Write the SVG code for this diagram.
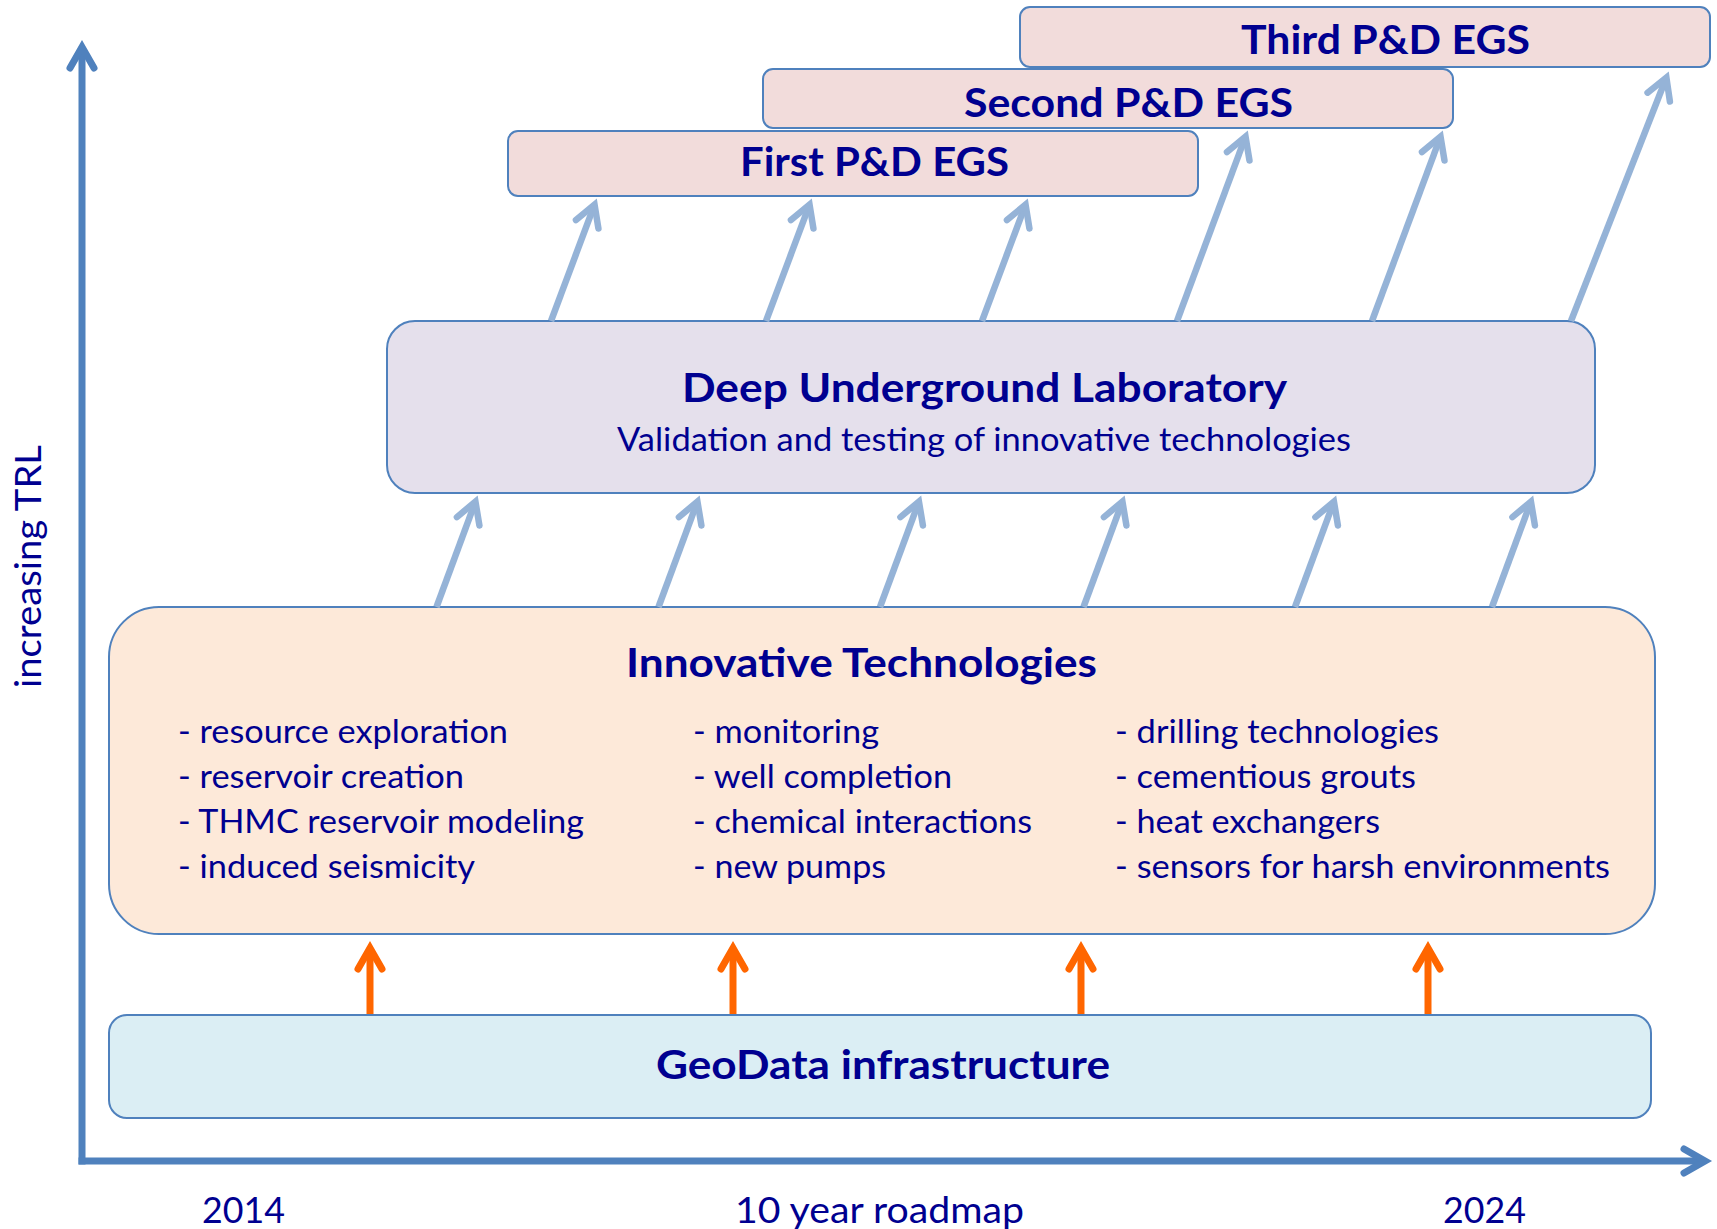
<svg xmlns="http://www.w3.org/2000/svg" width="1717" height="1229" viewBox="0 0 1717 1229">
  <style>
    .box { stroke: #4F81BD; stroke-width: 2; }
    .egs { fill: #F2DCDB; }
    .lab { fill: #E5E0EC; }
    .inno { fill: #FDE9D9; }
    .geo { fill: #DBEEF4; }
    .t { font-family: Lato, "Liberation Sans", sans-serif; fill: #000090; }
    .b { font-weight: 700; font-size: 40px; }
    .r { font-size: 33px; }
    .ax { font-size: 37px; }
    .axis { fill: none; stroke: #4F81BD; stroke-width: 7; }
    .up { fill: none; stroke: #95B3D7; stroke-width: 6.5; }
    .or { fill: none; stroke: #FF6600; stroke-width: 7; }
  </style>
  <defs>
    <marker id="ahAxis" markerUnits="userSpaceOnUse" viewBox="-30 -20 40 40" markerWidth="40" markerHeight="40" refX="-3" refY="0" orient="auto" overflow="visible">
      <path d="M -21,-12 L 0,0 L -21,12" fill="none" stroke="#4F81BD" stroke-width="7" stroke-linecap="round" stroke-linejoin="miter"/>
    </marker>
    <marker id="ahBlue" markerUnits="userSpaceOnUse" viewBox="-30 -20 40 40" markerWidth="40" markerHeight="40" refX="-3" refY="0" orient="auto" overflow="visible">
      <path d="M -21,-12 L 0,0 L -21,12" fill="none" stroke="#95B3D7" stroke-width="6.5" stroke-linecap="round" stroke-linejoin="miter"/>
    </marker>
    <marker id="ahOrange" markerUnits="userSpaceOnUse" viewBox="-30 -20 40 40" markerWidth="40" markerHeight="40" refX="-3" refY="0" orient="auto" overflow="visible">
      <path d="M -21,-12 L 0,0 L -21,12" fill="none" stroke="#FF6600" stroke-width="7" stroke-linecap="round" stroke-linejoin="miter"/>
    </marker>
  </defs>

  <rect width="1717" height="1229" fill="#FFFFFF"/>

  <g id="axes">
    <path class="axis" d="M 82,1164.5 L 82,50" marker-end="url(#ahAxis)"/>
    <path class="axis" d="M 78.5,1161 L 1702,1161" marker-end="url(#ahAxis)"/>
    <text class="t ax" transform="translate(41,688) rotate(-90)" textLength="243" lengthAdjust="spacingAndGlyphs">increasing TRL</text>
    <text class="t ax" x="202" y="1223" textLength="83" lengthAdjust="spacingAndGlyphs">2014</text>
    <text class="t ax" x="735" y="1223" textLength="289" lengthAdjust="spacingAndGlyphs">10 year roadmap</text>
    <text class="t ax" x="1443" y="1223" textLength="83" lengthAdjust="spacingAndGlyphs">2024</text>
  </g>

  <g id="third-egs">
    <rect class="box egs" x="1020" y="7" width="690" height="60" rx="10"/>
    <text class="t b" x="1241" y="54" textLength="289" lengthAdjust="spacingAndGlyphs">Third P&amp;D EGS</text>
  </g>
  <g id="second-egs">
    <rect class="box egs" x="763" y="69" width="690" height="59" rx="10"/>
    <text class="t b" x="964" y="117" textLength="329" lengthAdjust="spacingAndGlyphs">Second P&amp;D EGS</text>
  </g>
  <g id="first-egs">
    <rect class="box egs" x="508" y="131" width="690" height="65" rx="10"/>
    <text class="t b" x="740" y="176" textLength="269" lengthAdjust="spacingAndGlyphs">First P&amp;D EGS</text>
  </g>

  <g id="deep-lab">
    <rect class="box lab" x="387" y="321" width="1208" height="172" rx="28"/>
    <text class="t b" x="682" y="402" textLength="605" lengthAdjust="spacingAndGlyphs">Deep Underground Laboratory</text>
    <text class="t r" x="617" y="451" textLength="734" lengthAdjust="spacingAndGlyphs">Validation and testing of innovative technologies</text>
  </g>

  <g id="innovative">
    <rect class="box inno" x="109" y="607" width="1546" height="327" rx="50"/>
    <text class="t b" x="626" y="677" textLength="471" lengthAdjust="spacingAndGlyphs">Innovative Technologies</text>
    <text class="t r" x="178" y="743" textLength="330" lengthAdjust="spacingAndGlyphs">- resource exploration</text>
    <text class="t r" x="178" y="788" textLength="286" lengthAdjust="spacingAndGlyphs">- reservoir creation</text>
    <text class="t r" x="178" y="833" textLength="406" lengthAdjust="spacingAndGlyphs">- THMC reservoir modeling</text>
    <text class="t r" x="178" y="878" textLength="297" lengthAdjust="spacingAndGlyphs">- induced seismicity</text>
    <text class="t r" x="693" y="743" textLength="186" lengthAdjust="spacingAndGlyphs">- monitoring</text>
    <text class="t r" x="693" y="788" textLength="259" lengthAdjust="spacingAndGlyphs">- well completion</text>
    <text class="t r" x="693" y="833" textLength="339" lengthAdjust="spacingAndGlyphs">- chemical interactions</text>
    <text class="t r" x="693" y="878" textLength="193" lengthAdjust="spacingAndGlyphs">- new pumps</text>
    <text class="t r" x="1115" y="743" textLength="324" lengthAdjust="spacingAndGlyphs">- drilling technologies</text>
    <text class="t r" x="1115" y="788" textLength="301" lengthAdjust="spacingAndGlyphs">- cementious grouts</text>
    <text class="t r" x="1115" y="833" textLength="265" lengthAdjust="spacingAndGlyphs">- heat exchangers</text>
    <text class="t r" x="1115" y="878" textLength="495" lengthAdjust="spacingAndGlyphs">- sensors for harsh environments</text>
  </g>

  <g id="geodata">
    <rect class="box geo" x="109" y="1015" width="1542" height="103" rx="18"/>
    <text class="t b" x="656" y="1079" textLength="454" lengthAdjust="spacingAndGlyphs">GeoData infrastructure</text>
  </g>

  <g id="connectors">
    <path class="or" d="M 370,1014 L 370,951" marker-end="url(#ahOrange)"/>
    <path class="or" d="M 733,1014 L 733,951" marker-end="url(#ahOrange)"/>
    <path class="or" d="M 1081,1014 L 1081,951" marker-end="url(#ahOrange)"/>
    <path class="or" d="M 1428,1014 L 1428,951" marker-end="url(#ahOrange)"/>
    <path class="up" d="M 436.5,607 L 474.4,504.4" marker-end="url(#ahBlue)"/>
    <path class="up" d="M 658.5,607 L 696.4,504.4" marker-end="url(#ahBlue)"/>
    <path class="up" d="M 880,607 L 917.9,504.4" marker-end="url(#ahBlue)"/>
    <path class="up" d="M 1083.5,607 L 1121.4,504.4" marker-end="url(#ahBlue)"/>
    <path class="up" d="M 1295,607 L 1332.9,504.4" marker-end="url(#ahBlue)"/>
    <path class="up" d="M 1492,607 L 1529.9,504.4" marker-end="url(#ahBlue)"/>
    <path class="up" d="M 551,321 L 593.5,207.4" marker-end="url(#ahBlue)"/>
    <path class="up" d="M 766,321 L 808.5,207.4" marker-end="url(#ahBlue)"/>
    <path class="up" d="M 982,321 L 1024.5,207.4" marker-end="url(#ahBlue)"/>
    <path class="up" d="M 1177,321 L 1244.5,139.4" marker-end="url(#ahBlue)"/>
    <path class="up" d="M 1372,321 L 1439.5,139.4" marker-end="url(#ahBlue)"/>
    <path class="up" d="M 1571,321 L 1665.3,80.3" marker-end="url(#ahBlue)"/>
  </g>
</svg>
